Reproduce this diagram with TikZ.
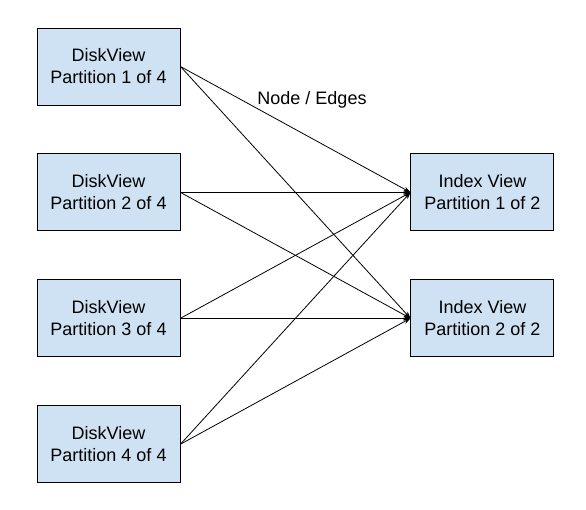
\documentclass[tikz,border=0pt]{standalone}
\usepackage{fontspec}
\setmainfont{Liberation Sans}
\usetikzlibrary{arrows.meta,positioning}
\definecolor{viewfill}{RGB}{207,226,243}
\tikzset{
  vbox/.style={draw=black,line width=0.9pt,fill=viewfill,align=center,
               minimum width=143pt,minimum height=77pt,inner sep=2pt,
               font=\fontsize{18}{22}\selectfont},
  elabel/.style={font=\fontsize{18}{22}\selectfont},
  edge/.style={-{Stealth[length=7pt,width=5pt]},draw=black,line width=0.8pt},
}
\begin{document}
\begin{tikzpicture}[node distance=48pt]
\useasboundingbox (0,0) rectangle (586pt,-510pt);
% --- disk view partitions ---
\node[vbox] (d1) at (108.5pt,-66.5pt) {DiskView\\Partition 1 of 4};
\node[vbox,below=of d1] (d2) {DiskView\\Partition 2 of 4};
\node[vbox,below=of d2] (d3) {DiskView\\Partition 3 of 4};
\node[vbox,below=of d3] (d4) {DiskView\\Partition 4 of 4};
% --- index view partitions ---
\node[vbox,right=230pt of d2] (i1) {Index View\\Partition 1 of 2};
\node[vbox,right=230pt of d3] (i2) {Index View\\Partition 2 of 2};
\node[elabel] (lbl) at (312pt,-100pt) {Node / Edges};
% edges
\foreach \d in {d1,d2,d3,d4}{
  \draw[edge] (\d.east) -- (i1.west);
  \draw[edge] (\d.east) -- (i2.west);
}
\end{tikzpicture}
\end{document}
